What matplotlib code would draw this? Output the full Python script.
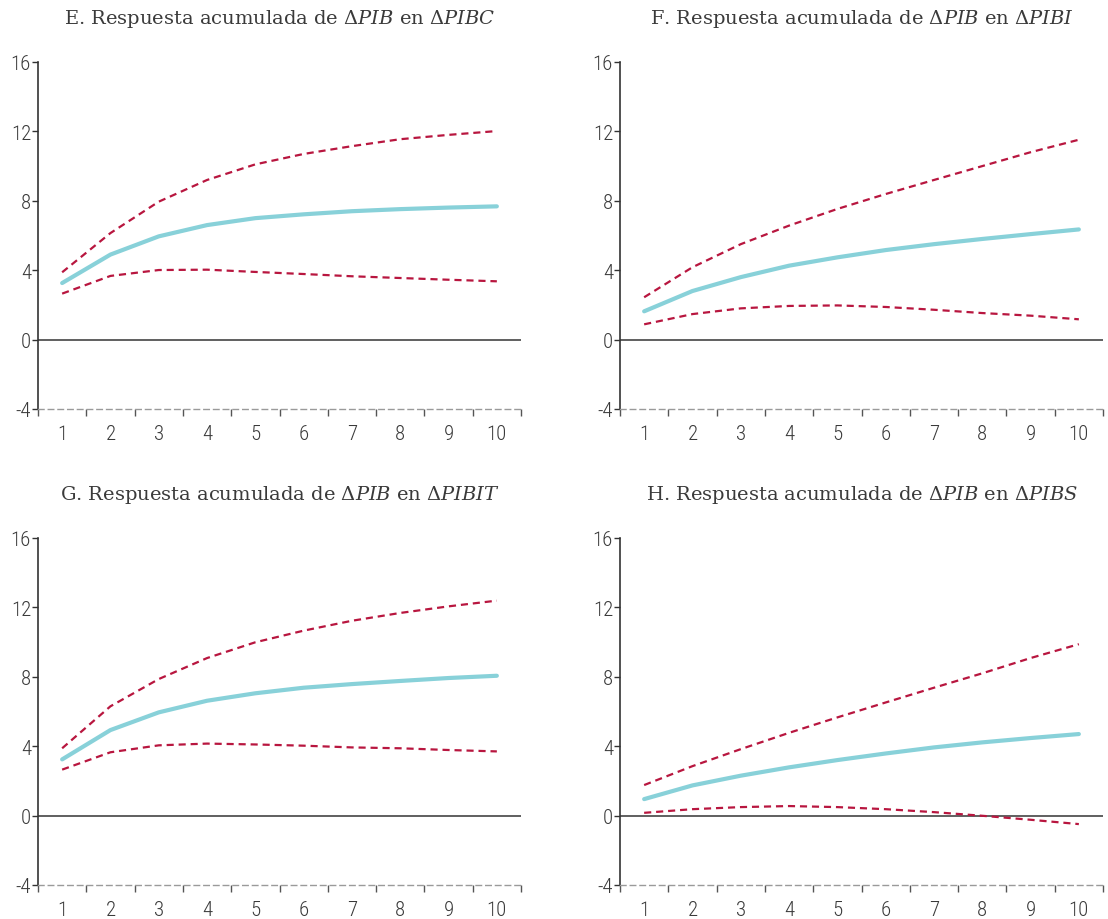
import matplotlib
matplotlib.use("Agg")
import matplotlib.pyplot as plt
from matplotlib import font_manager
import numpy as np

periods = [1, 2, 3, 4, 5, 6, 7, 8, 9, 10]
titles = [
    r"E. Respuesta acumulada de $\Delta\mathit{PIB}$ en $\Delta\mathit{PIBC}$",
    r"F. Respuesta acumulada de $\Delta\mathit{PIB}$ en $\Delta\mathit{PIBI}$",
    r"G. Respuesta acumulada de $\Delta\mathit{PIB}$ en $\Delta\mathit{PIBIT}$",
    r"H. Respuesta acumulada de $\Delta\mathit{PIB}$ en $\Delta\mathit{PIBS}$",
]
resp_E = [3.26, 4.90, 5.95, 6.60, 7.00, 7.22, 7.40, 7.52, 7.61, 7.68]
upper_E = [3.88, 6.14, 7.95, 9.20, 10.10, 10.70, 11.15, 11.55, 11.80, 12.02]
lower_E = [2.65, 3.67, 4.01, 4.03, 3.90, 3.78, 3.65, 3.55, 3.45, 3.36]

resp_F = [1.63, 2.80, 3.60, 4.26, 4.74, 5.16, 5.50, 5.80, 6.08, 6.35]
upper_F = [2.44, 4.17, 5.50, 6.57, 7.53, 8.39, 9.20, 10.00, 10.80, 11.52]
lower_F = [0.88, 1.47, 1.80, 1.94, 1.97, 1.88, 1.72, 1.53, 1.38, 1.17]

resp_G = [3.24, 4.93, 5.95, 6.62, 7.05, 7.37, 7.58, 7.76, 7.93, 8.06]
upper_G = [3.88, 6.30, 7.87, 9.08, 9.99, 10.66, 11.23, 11.68, 12.06, 12.39]
lower_G = [2.65, 3.65, 4.05, 4.15, 4.10, 4.03, 3.93, 3.88, 3.78, 3.70]

resp_H = [0.95, 1.74, 2.30, 2.78, 3.20, 3.58, 3.93, 4.22, 4.47, 4.70]
upper_H = [1.76, 2.85, 3.83, 4.77, 5.66, 6.52, 7.37, 8.20, 9.08, 9.88]
lower_H = [0.16, 0.37, 0.49, 0.55, 0.49, 0.37, 0.20, -0.01, -0.24, -0.49]

y_ticks = [-4, 0, 4, 8, 12, 16]

series = [(resp_E, upper_E, lower_E), (resp_F, upper_F, lower_F),
          (resp_G, upper_G, lower_G), (resp_H, upper_H, lower_H)]

avail = {f.name for f in font_manager.fontManager.ttflist}
tick_font = "DejaVu Sans"
for cand in ("Liberation Sans Narrow", "Roboto Condensed", "Roboto"):
    if cand in avail:
        tick_font = cand
        break
plt.rcParams["mathtext.fontset"] = "dejavuserif"

W, H = 1108, 920
fig = plt.figure(figsize=(W / 100, H / 100), dpi=100)

positions = [(38, 63), (620, 63), (38, 539), (620, 539)]
aw, ah = 483, 347

cyan = "#88D1D9"
red = "#B8163F"
txt = "#3a3a3a"

for (px, py), title, (r, u, l) in zip(positions, titles, series):
    ax = fig.add_axes([px / W, 1 - (py + ah) / H, aw / W, ah / H])
    ax.plot(periods, u, color=red, lw=1.6, ls=(0, (3.2, 2.2)), zorder=3)
    ax.plot(periods, l, color=red, lw=1.6, ls=(0, (3.2, 2.2)), zorder=3)
    ax.plot(periods, r, color=cyan, lw=3.0, solid_capstyle="round", zorder=4)
    ax.axhline(0, color="#444444", lw=1.2, zorder=2)
    ax.set_xlim(0.5, 10.5)
    ax.set_ylim(-4, 16)
    ax.set_yticks(y_ticks)
    ax.set_yticklabels([str(t) for t in y_ticks], fontfamily=tick_font,
                       fontweight="light", fontsize=15, color=txt)
    ax.set_xticks(periods)
    ax.set_xticklabels([str(p) for p in periods], fontfamily=tick_font,
                       fontweight="light", fontsize=15, color=txt)
    ax.set_xticks(np.arange(0.5, 11, 1.0), minor=True)
    ax.tick_params(axis="x", which="major", length=0, pad=11)
    ax.tick_params(axis="x", which="minor", length=5, width=1, color="#555555", direction="out")
    ax.tick_params(axis="y", which="major", length=4, width=1, color="#333333", pad=1)
    for s in ("top", "right"):
        ax.spines[s].set_visible(False)
    ax.spines["left"].set_color("#333333")
    ax.spines["left"].set_linewidth(1.2)
    ax.spines["bottom"].set_color("#9a9a9a")
    ax.spines["bottom"].set_linewidth(1.0)
    ax.spines["bottom"].set_linestyle((0, (4, 3)))
    ax.set_title(title, fontfamily="DejaVu Serif", fontsize=14, color=txt, pad=28)
    ax.patch.set_alpha(0)

fig.savefig("out.png", dpi=100)
